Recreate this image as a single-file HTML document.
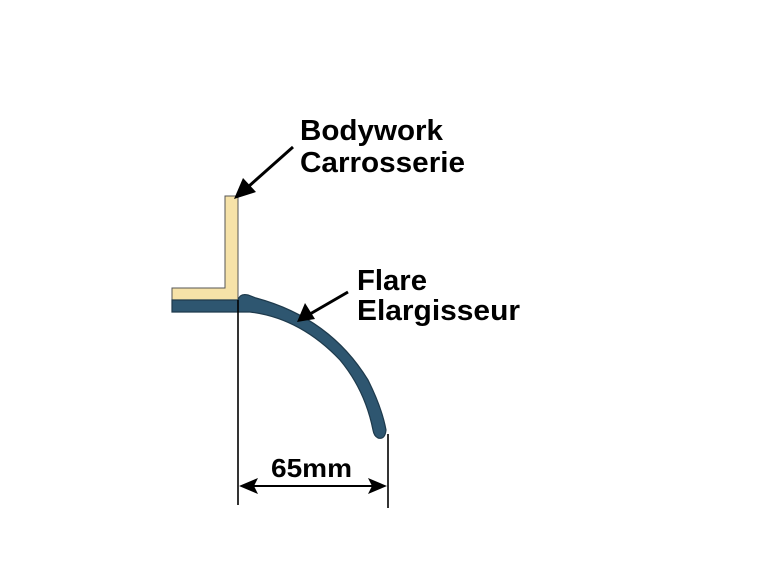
<!DOCTYPE html>
<html><head><style>
html,body{margin:0;padding:0;background:#fff;}
svg{display:block;}
text{font-family:"Liberation Sans",Arial,sans-serif;font-weight:bold;fill:#000;}
</style></head><body>
<svg width="761" height="570" viewBox="0 0 761 570" xmlns="http://www.w3.org/2000/svg">
<rect width="761" height="570" fill="#fff"/>
<path d="M225,196 L238,196 L238,300 L172,300 L172,288 L225,288 Z" fill="#f6e2a8" stroke="#555" stroke-width="1"/>
<path d="M172,300 L238,300 Q240,293 248,295 L256,298 Q330,318 368,380 Q382,408 386,430 Q385,440 378,438 Q374,436 373,430 Q365,390 340,360 Q300,318 250,312 L172,312 Z" fill="#2e5670" stroke="#1e3a4c" stroke-width="1.2"/>
<line x1="238" y1="300" x2="238" y2="505" stroke="#000" stroke-width="1.6"/>
<line x1="388" y1="434" x2="388" y2="508" stroke="#000" stroke-width="1.6"/>
<line x1="250" y1="486" x2="376" y2="486" stroke="#000" stroke-width="2"/>
<polygon points="239,486 258,478 254,486 258,494" fill="#000"/>
<polygon points="387,486 368,478 372,486 368,494" fill="#000"/>
<text x="271" y="477" font-size="26" textLength="81" lengthAdjust="spacingAndGlyphs">65mm</text>
<line x1="293" y1="147" x2="248" y2="187" stroke="#000" stroke-width="3"/>
<polygon points="234,199 243,178 256,192" fill="#000"/>
<line x1="348" y1="292" x2="310" y2="314" stroke="#000" stroke-width="3"/>
<polygon points="297,322 305,303 315,319" fill="#000"/>
<text x="300" y="140" font-size="29" textLength="143" lengthAdjust="spacingAndGlyphs">Bodywork</text>
<text x="300" y="172" font-size="29" textLength="165" lengthAdjust="spacingAndGlyphs">Carrosserie</text>
<text x="357" y="290" font-size="29" textLength="70" lengthAdjust="spacingAndGlyphs">Flare</text>
<text x="357" y="320" font-size="29" textLength="163" lengthAdjust="spacingAndGlyphs">Elargisseur</text>
</svg>
</body></html>
